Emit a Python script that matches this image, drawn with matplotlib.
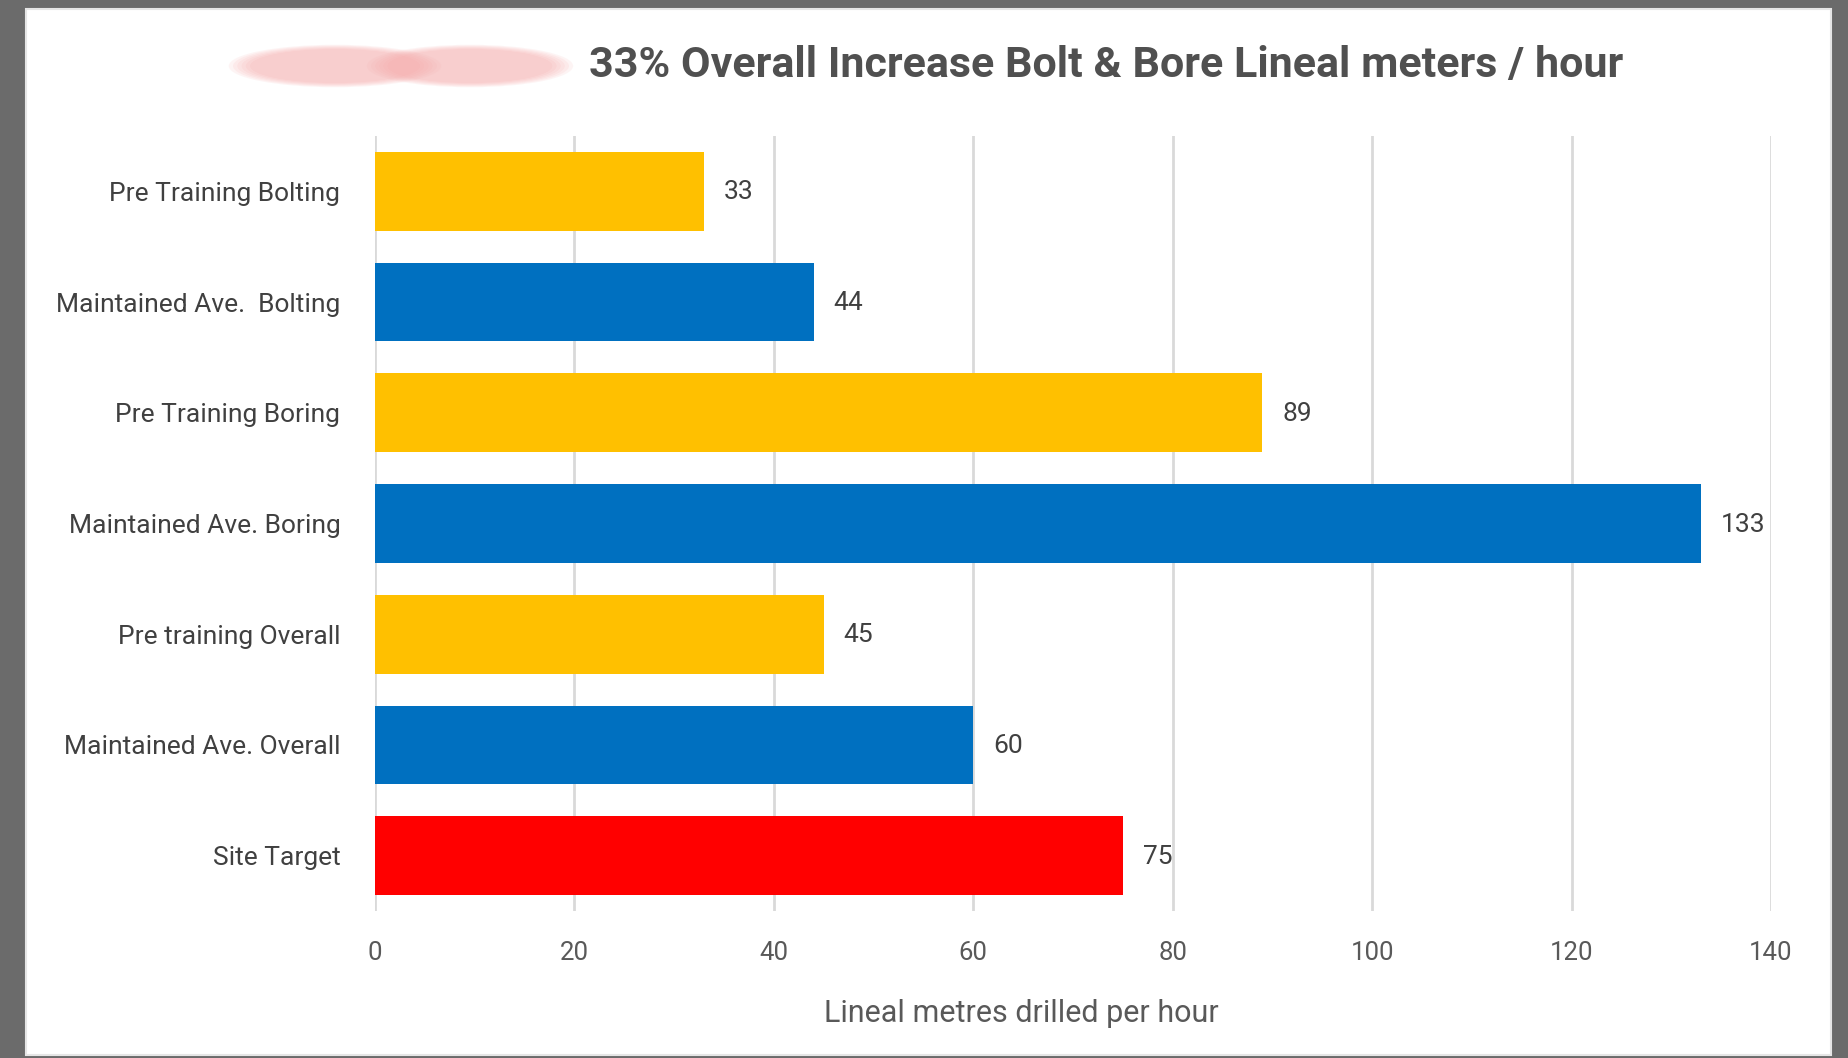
import matplotlib
matplotlib.use("Agg")
import matplotlib.pyplot as plt
from matplotlib.patches import Rectangle, Ellipse
from matplotlib import font_manager

# data
categories = ["Pre Training Bolting", "Maintained Ave.  Bolting", "Pre Training Boring",
              "Maintained Ave. Boring", "Pre training Overall", "Maintained Ave. Overall",
              "Site Target"]
values = [33, 44, 89, 133, 45, 60, 75]
bar_colors = ["#FFC000", "#0070C0", "#FFC000", "#0070C0", "#FFC000", "#0070C0", "#FF0000"]
x_ticks = [0, 20, 40, 60, 80, 100, 120, 140]

title = "33% Overall Increase Bolt & Bore Lineal meters / hour"
x_label = "Lineal metres drilled per hour"

names = {f.name for f in font_manager.fontManager.ttflist}
narrow = "Liberation Sans Narrow" if "Liberation Sans Narrow" in names else "Roboto"
plt.rcParams["font.family"] = ["Roboto", "DejaVu Sans"]

W, H = 1849, 1058
fig = plt.figure(figsize=(W / 100, H / 100), dpi=100)
fig.patch.set_facecolor("#6b6b6b")
# white card behind everything
fig.patches.append(Rectangle((26 / W, 1 - 1055 / H), (1831 - 26) / W, (1055 - 9) / H,
                             transform=fig.transFigure, facecolor="white",
                             edgecolor="#e6e6e6", lw=1.5, zorder=-3))

# redacted (blurred) word before the title
for k in range(6):
    grow = 1 + 0.05 * k
    for cx, w in [(335, 170), (470, 165)]:
        fig.patches.append(Ellipse((cx / W, 1 - 66 / H), w * grow / W, 34 * grow / H,
                                   transform=fig.transFigure, facecolor="#f6a9a9",
                                   edgecolor="none", alpha=0.12, zorder=-2))

ax = fig.add_axes([375 / W, 1 - 911 / H, (1771 - 375) / W, (911 - 136) / H])
ax.set_facecolor("none")
ypos = list(range(len(categories)))
ax.barh(ypos, values, height=0.71, color=bar_colors, zorder=2)
ax.set_ylim(len(categories) - 0.5, -0.5)
ax.set_xlim(0, 140)
ax.set_xticks(x_ticks)
ax.set_yticks(ypos)
ax.set_yticklabels(categories, fontsize=19, color="#404040")
ax.tick_params(axis="x", labelsize=18.5, labelcolor="#595959", length=0, pad=21.5)
ax.tick_params(axis="y", length=0, pad=25)
ax.grid(axis="x", color="#d9d9d9", lw=2, zorder=0)
ax.set_axisbelow(True)
for s in ax.spines.values():
    s.set_visible(False)

for y, v in zip(ypos, values):
    ax.text(v + 2, y + 0.01, str(v), va="center", ha="left", fontsize=19, color="#404040")

ax.set_xlabel(x_label, fontsize=22, color="#595959")
ax.xaxis.set_label_coords(0.463, -0.114)

fig.text(1106 / W, 1 - 65 / H, title, ha="center", va="center", fontsize=31,
         fontweight="bold", color="#505050", family=[narrow, "DejaVu Sans"])

fig.savefig("out.png", dpi=100, facecolor=fig.get_facecolor())
